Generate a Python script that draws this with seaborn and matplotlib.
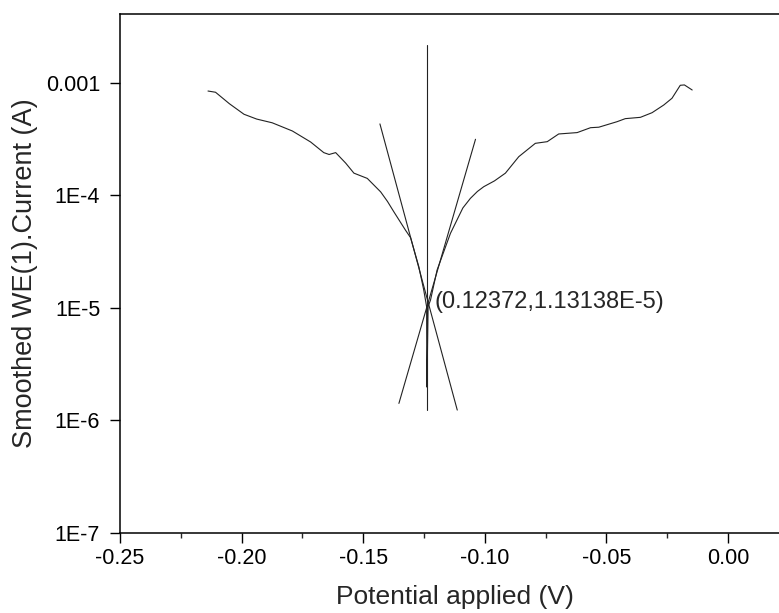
import numpy as np
import pandas as pd
import matplotlib
matplotlib.use("Agg")
import matplotlib.pyplot as plt
from matplotlib.ticker import AutoMinorLocator, NullLocator
import seaborn as sns

# polarization curve (V, A)
potential = [-0.2138, -0.2107, -0.2050, -0.1990, -0.1938, -0.1874, -0.1791, -0.1716,
             -0.1662, -0.1640, -0.1613, -0.1572, -0.1538, -0.1483, -0.1428, -0.1400,
             -0.1374, -0.1326, -0.1305, -0.1271, -0.1251, -0.1239, -0.1238, -0.1236,
             -0.1233, -0.1223, -0.1196, -0.1165, -0.1141, -0.1090, -0.1059, -0.1030,
             -0.1004, -0.0960, -0.0915, -0.0860, -0.0792, -0.0743, -0.0696, -0.0620,
             -0.0565, -0.0531, -0.0456, -0.0422, -0.0360, -0.0312, -0.0264, -0.0230,
             -0.0196, -0.0179, -0.0147]
current = [8.43e-4, 8.22e-4, 6.50e-4, 5.24e-4, 4.75e-4, 4.40e-4, 3.72e-4, 2.97e-4,
           2.39e-4, 2.30e-4, 2.39e-4, 1.93e-4, 1.57e-4, 1.41e-4, 1.07e-4, 8.80e-5,
           7.13e-5, 4.89e-5, 4.19e-5, 2.31e-5, 1.44e-5, 1.02e-5, 1.97e-6, 3.5e-6,
           1.02e-5, 1.17e-5, 2.16e-5, 3.30e-5, 4.58e-5, 7.7e-5, 9.37e-5, 1.08e-4,
           1.19e-4, 1.34e-4, 1.57e-4, 2.20e-4, 2.89e-4, 2.99e-4, 3.50e-4, 3.60e-4,
           3.98e-4, 4.02e-4, 4.50e-4, 4.79e-4, 4.92e-4, 5.41e-4, 6.33e-4, 7.27e-4,
           9.48e-4, 9.55e-4, 8.61e-4]

# Tafel fit lines and Ecorr marker
cathodic_v = [-0.1431, -0.1113]
cathodic_i = [4.30e-4, 1.23e-6]
anodic_v = [-0.1353, -0.1038]
anodic_i = [1.41e-6, 3.14e-4]
ecorr_v = [-0.12372, -0.12372]
ecorr_i = [2.16e-3, 1.23e-6]
icorr = 1.13138e-5
etiket = "(0.12372,1.13138E-5)"

x_ticks = [-0.25, -0.20, -0.15, -0.10, -0.05, 0.00]
x_labels = ["-0.25", "-0.20", "-0.15", "-0.10", "-0.05", "0.00"]
y_ticks = [1e-7, 1e-6, 1e-5, 1e-4, 1e-3]
y_labels = ["1E-7", "1E-6", "1E-5", "1E-4", "0.001"]

sns.set_style("ticks")
plt.rcParams["font.family"] = ["Liberation Sans", "DejaVu Sans"]
plt.rcParams["axes.unicode_minus"] = False

df = pd.DataFrame({"potential": potential, "current": current})

fig = plt.figure(figsize=(7.79, 6.13), dpi=100)
ax = fig.add_axes([0.154, 0.131, 0.846, 0.8462])

sns.lineplot(data=df, x="potential", y="current", sort=False, estimator=None,
             color="#222222", lw=0.8, ax=ax)
ax.plot(cathodic_v, cathodic_i, color="#222222", lw=0.8)
ax.plot(anodic_v, anodic_i, color="#222222", lw=0.8)
ax.plot(ecorr_v, ecorr_i, color="#222222", lw=0.8)
ax.text(-0.1205, icorr, etiket, fontsize=17, ha="left", va="center")

ax.set_yscale("log")
ax.set_xlim(-0.25, 0.021)
ax.set_ylim(1e-7, 4.08e-3)

ax.set_xticks(x_ticks)
ax.set_xticklabels(x_labels)
ax.xaxis.set_minor_locator(AutoMinorLocator(2))
ax.set_yticks(y_ticks)
ax.set_yticklabels(y_labels)
ax.yaxis.set_minor_locator(NullLocator())

ax.tick_params(which="major", direction="out", length=7.2, width=1.0,
               labelsize=15.5, pad=4, colors="black")
ax.tick_params(axis="y", which="major", pad=7)
ax.tick_params(which="minor", direction="out", length=3.6, width=1.0)

for s in ["left", "bottom", "top"]:
    ax.spines[s].set_linewidth(1.1)
    ax.spines[s].set_color("black")
ax.spines["right"].set_visible(False)

ax.set_xlabel("Potential applied (V)", fontsize=19)
ax.set_ylabel("Smoothed WE(1).Current (A)", fontsize=19.5)
ax.xaxis.set_label_coords(0.508, -0.1)
ax.yaxis.set_label_coords(-0.124, 0.5)

fig.savefig("out.png", dpi=100)
